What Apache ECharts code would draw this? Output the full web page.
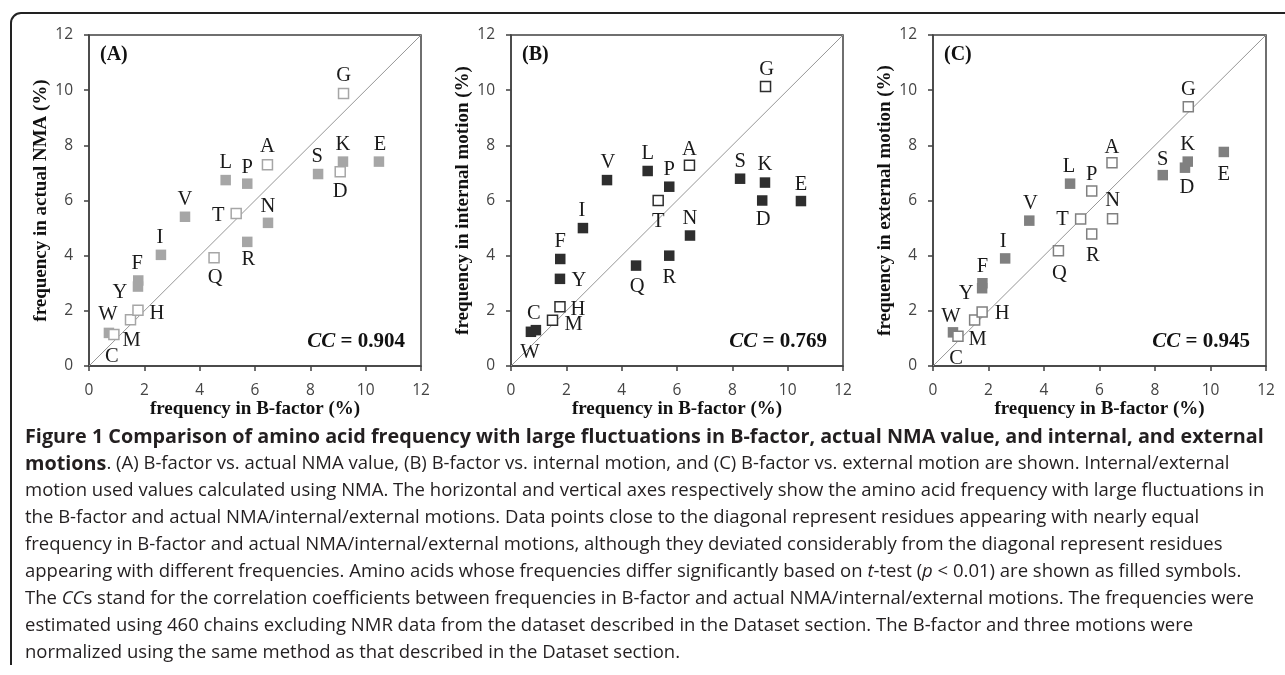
<!DOCTYPE html>
<html>
<head>
<meta charset="utf-8">
<script src="https://cdn.jsdelivr.net/npm/echarts@6/dist/echarts.min.js"></script>
<style>
  html, body { margin: 0; padding: 0; background: #fff; }
  #chart { width: 1285px; height: 675px; }
</style>
</head>
<body>
<div id="chart"></div>
<script>
// amino acids, same order in every array below
const residues = ['W', 'C', 'M', 'H', 'Y', 'F', 'I', 'V', 'Q', 'L', 'T', 'R', 'P', 'A', 'N', 'S', 'D', 'K', 'G', 'E']
const bFactor = [0.72, 0.9, 1.5, 1.77, 1.77, 1.78, 2.6, 3.47, 4.52, 4.94, 5.32, 5.72, 5.72, 6.45, 6.47, 8.28, 9.08, 9.18, 9.2, 10.48]
const actualNma = [1.2, 1.14, 1.68, 2.02, 2.88, 3.1, 4.03, 5.41, 3.92, 6.74, 5.53, 4.5, 6.61, 7.3, 5.19, 6.96, 7.04, 7.41, 9.88, 7.41]
const internalMotion = [1.24, 1.3, 1.66, 2.15, 3.16, 3.88, 5.0, 6.74, 3.64, 7.07, 6.0, 4.0, 6.5, 7.28, 4.73, 6.79, 6.0, 6.65, 10.13, 5.98]
const externalMotion = [1.22, 1.08, 1.67, 1.96, 2.82, 3.0, 3.9, 5.27, 4.18, 6.61, 5.33, 4.79, 6.34, 7.37, 5.34, 6.92, 7.19, 7.41, 9.4, 7.76]

// significant by t-test (filled symbols)
const filledA = ['W', 'Y', 'F', 'I', 'V', 'L', 'R', 'P', 'N', 'S', 'K', 'E']
const filledB = ['W', 'C', 'Y', 'F', 'I', 'V', 'Q', 'L', 'R', 'P', 'N', 'S', 'D', 'K', 'E']
const filledC = ['W', 'Y', 'F', 'I', 'V', 'L', 'S', 'D', 'K', 'E']

const panelTags = ['(A)', '(B)', '(C)']
const ccValues = ['0.904', '0.769', '0.945']
const yAxisNames = ['frequency in actual NMA (%)', 'frequency in internal motion (%)', 'frequency in external motion (%)']
const xAxisName = 'frequency in B-factor (%)'
const axisMin = 0
const axisMax = 12
const axisStep = 2

const captionLines = [
  '{b|Figure 1 Comparison of amino acid frequency with large fluctuations in B-factor, actual NMA value, and internal, and external}',
  '{b|motions}. (A) B-factor vs. actual NMA value, (B) B-factor vs. internal motion, and (C) B-factor vs. external motion are shown. Internal/external',
  'motion used values calculated using NMA. The horizontal and vertical axes respectively show the amino acid frequency with large fluctuations in',
  'the B-factor and actual NMA/internal/external motions. Data points close to the diagonal represent residues appearing with nearly equal',
  'frequency in B-factor and actual NMA/internal/external motions, although they deviated considerably from the diagonal represent residues',
  'appearing with different frequencies. Amino acids whose frequencies differ significantly based on {i|t}-test ({i|p} < 0.01) are shown as filled symbols.',
  'The {i|CC}s stand for the correlation coefficients between frequencies in B-factor and actual NMA/internal/external motions. The frequencies were',
  'estimated using 460 chains excluding NMR data from the dataset described in the Dataset section. The B-factor and three motions were',
  'normalized using the same method as that described in the Dataset section.'
]

// where each letter sits relative to its square, px
const shiftA = {
  G: [0, -18], A: [0, -18], L: [0, -17], P: [0, -16], S: [-1, -17], K: [0, -17], D: [0, 20], E: [1, -17],
  V: [0, -17], T: [-18, 2], N: [0, -16], R: [1, 18], I: [-1, -17], Q: [1, 20], F: [-1, -17], Y: [-18, 6],
  H: [19, 3], M: [1, 21], C: [-2, 22], W: [-1, -18]
}
const shiftB = {
  G: [1, -17], A: [0, -16], L: [0, -17], P: [0, -17], T: [0, 21], V: [1, -17], S: [0, -17], K: [0, -18],
  D: [1, 19], E: [0, -16], I: [-1, -17], N: [0, -17], R: [0, 22], Q: [1, 21], F: [0, -17], Y: [19, 2],
  H: [18, 3], M: [21, 4], C: [-2, -17], W: [-1, 21]
}
const shiftC = {
  G: [0, -17], A: [0, -15], L: [-1, -17], P: [0, -17], S: [0, -16], K: [0, -17], D: [2, 20], E: [0, 23],
  V: [1, -17], T: [-18, 1], N: [0, -18], R: [1, 22], I: [-2, -17], Q: [1, 23], F: [0, -17], Y: [-16, 5],
  H: [20, 2], M: [3, 20], C: [-2, 22], W: [-2, -16]
}

const serif = '"Liberation Serif", "Times New Roman", serif'
const sans = '"Open Sans", sans-serif'
const axisColor = '#404040'
const ink = '#1a1a1a'
const captionInk = '#231f20'

const panels = [
  { values: actualNma, filled: filledA, shift: shiftA, color: '#a6a6a6', grid: { left: 89, top: 35, width: 332, height: 331 } },
  { values: internalMotion, filled: filledB, shift: shiftB, color: '#2e2e2e', grid: { left: 511, top: 35, width: 332, height: 331 } },
  { values: externalMotion, filled: filledC, shift: shiftC, color: '#808080', grid: { left: 933, top: 35, width: 333, height: 331 } }
]

function pointItems(panel, wantFilled) {
  const items = []
  residues.forEach((res, k) => {
    if (panel.filled.includes(res) !== wantFilled) return
    items.push({ name: res, value: [bFactor[k], panel.values[k]], label: { offset: panel.shift[res] } })
  })
  return items
}

const pointLabel = {
  show: true,
  position: 'inside',
  formatter: '{b}',
  color: ink,
  fontFamily: serif,
  fontSize: 20.5,
  textBorderWidth: 0
}

const series = []
panels.forEach((panel, i) => {
  series.push({
    type: 'line',
    xAxisIndex: i,
    yAxisIndex: i,
    data: [[axisMin, axisMin], [axisMax, axisMax]],
    symbol: 'none',
    silent: true,
    z: 1,
    lineStyle: { color: '#969696', width: 1 }
  })
  series.push({
    type: 'scatter',
    xAxisIndex: i,
    yAxisIndex: i,
    symbol: 'rect',
    symbolSize: 10.5,
    z: 2,
    itemStyle: { color: panel.color, opacity: 1 },
    label: pointLabel,
    data: pointItems(panel, true)
  })
  series.push({
    type: 'scatter',
    xAxisIndex: i,
    yAxisIndex: i,
    symbol: 'rect',
    symbolSize: 10,
    z: 3,
    itemStyle: { color: '#fff', borderColor: panel.color, borderWidth: 1.5, opacity: 1 },
    label: pointLabel,
    data: pointItems(panel, false)
  })
})

const graphic = [
  { type: 'polyline', shape: { points: [[11, 665], [11, 23]] }, style: { stroke: '#222', lineWidth: 2, fill: null } },
  { type: 'arc', shape: { cx: 21, cy: 23, r: 10, startAngle: Math.PI, endAngle: Math.PI * 1.5, clockwise: true }, style: { stroke: '#222', lineWidth: 2, fill: null } },
  { type: 'polyline', shape: { points: [[21, 13], [1290, 13]] }, style: { stroke: '#222', lineWidth: 2, fill: null } }
]

panels.forEach((panel, i) => {
  const g = panel.grid
  graphic.push({
    type: 'text', x: g.left + 11, y: 55,
    style: { text: panelTags[i], fontFamily: serif, fontWeight: 'bold', fontSize: 20, fill: '#111', align: 'left', verticalAlign: 'middle' }
  })
  graphic.push({
    type: 'text', x: g.left + g.width - 16, y: 342,
    style: {
      text: '{i|CC} = ' + ccValues[i],
      fontFamily: serif, fontWeight: 'bold', fontSize: 21, fill: '#111', align: 'right', verticalAlign: 'middle',
      rich: { i: { fontFamily: serif, fontWeight: 'bold', fontStyle: 'italic', fontSize: 21, fill: '#111' } }
    }
  })
})

const captionRich = {
  b: { fontFamily: sans, fontWeight: 'bold', fontSize: 19.8, fill: captionInk },
  i: { fontFamily: sans, fontStyle: 'italic', fontSize: 18.5, fill: captionInk }
}
captionLines.forEach((line, k) => {
  graphic.push({
    type: 'text', x: 25, y: 437 + k * 27,
    style: { text: line, fontFamily: sans, fontSize: 18.5, fill: captionInk, align: 'left', verticalAlign: 'middle', rich: captionRich }
  })
})

const option = {
  animation: false,
  backgroundColor: '#fff',
  grid: panels.map((p) => ({ ...p.grid, show: true, borderColor: axisColor, borderWidth: 1.5, backgroundColor: 'transparent' })),
  xAxis: panels.map((p, i) => ({
    gridIndex: i,
    type: 'value',
    min: axisMin,
    max: axisMax,
    interval: axisStep,
    name: xAxisName,
    nameLocation: 'middle',
    nameGap: 34,
    nameTextStyle: { fontFamily: serif, fontWeight: 'bold', fontSize: 19, color: '#111' },
    axisLine: { show: true, onZero: false, lineStyle: { color: axisColor, width: 1.5 } },
    axisTick: { show: true, inside: false, length: 5, lineStyle: { color: axisColor, width: 1.5 } },
    axisLabel: { color: '#444', fontFamily: sans, fontSize: 15.5, margin: 17 },
    splitLine: { show: false }
  })),
  yAxis: panels.map((p, i) => ({
    gridIndex: i,
    type: 'value',
    min: axisMin,
    max: axisMax,
    interval: axisStep,
    name: yAxisNames[i],
    nameLocation: 'middle',
    nameRotate: 90,
    nameGap: 38,
    nameTextStyle: { fontFamily: serif, fontWeight: 'bold', fontSize: 19, color: '#111' },
    axisLine: { show: true, onZero: false, lineStyle: { color: axisColor, width: 1.5 } },
    axisTick: { show: true, inside: false, length: 5, lineStyle: { color: axisColor, width: 1.5 } },
    axisLabel: { color: '#444', fontFamily: sans, fontSize: 15.5, margin: 16 },
    splitLine: { show: false }
  })),
  graphic,
  series
}

const chart = echarts.init(document.getElementById('chart'), null, { renderer: 'canvas' })
chart.setOption(option)
</script>
</body>
</html>
